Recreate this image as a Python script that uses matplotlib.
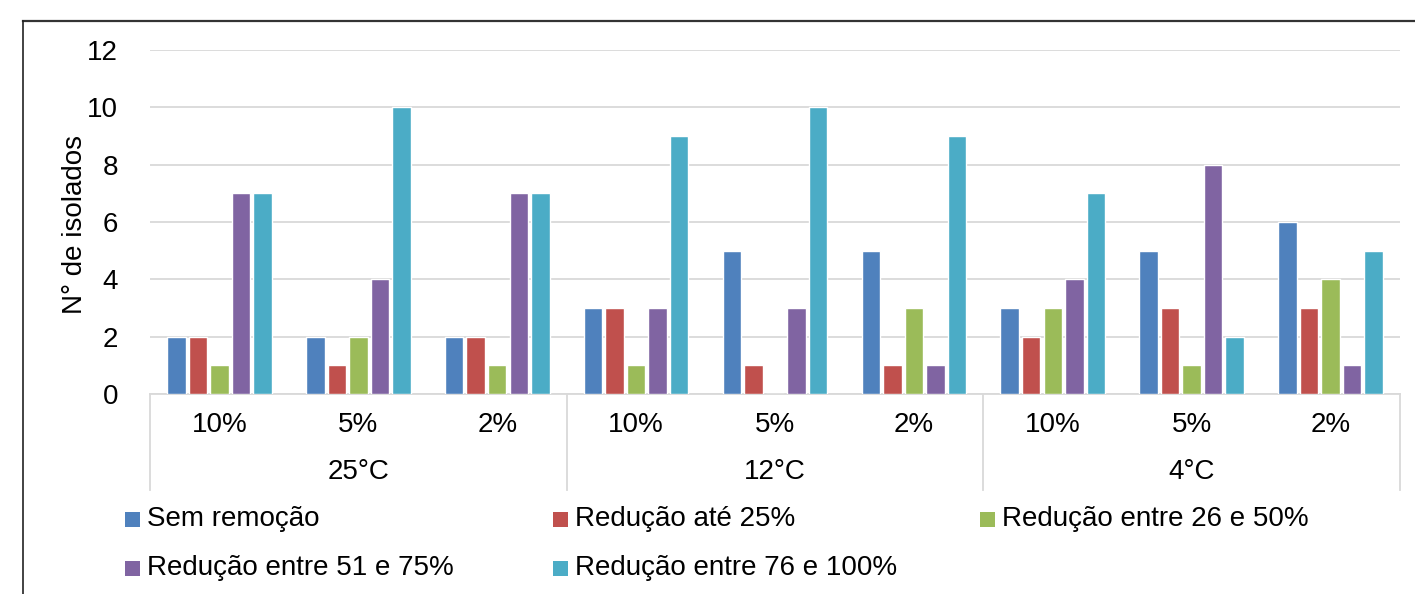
import matplotlib
matplotlib.use("Agg")
import matplotlib.pyplot as plt
from matplotlib.lines import Line2D
from matplotlib.patches import Rectangle
from matplotlib.transforms import blended_transform_factory

plt.rcParams['font.family'] = ['Liberation Sans', 'DejaVu Sans']

temperatures = ["25°C", "12°C", "4°C"]
concentrations = ["10%", "5%", "2%"]
series_names = [
    "Sem remoção",
    "Redução até 25%",
    "Redução entre 26 e 50%",
    "Redução entre 51 e 75%",
    "Redução entre 76 e 100%",
]
colors = ["#4F81BD", "#C0504D", "#9BBB59", "#8064A2", "#4BACC6"]

# values per series, ordered 25°C (10,5,2%), 12°C (10,5,2%), 4°C (10,5,2%)
sem_remocao = [2, 2, 2, 3, 5, 5, 3, 5, 6]
reducao_ate_25 = [2, 1, 2, 3, 1, 1, 2, 3, 3]
reducao_26_50 = [1, 2, 1, 1, 0, 3, 3, 1, 4]
reducao_51_75 = [7, 4, 7, 3, 3, 1, 4, 8, 1]
reducao_76_100 = [7, 10, 7, 9, 10, 9, 7, 2, 5]
series_values = [sem_remocao, reducao_ate_25, reducao_26_50, reducao_51_75, reducao_76_100]

y_ticks = [0, 2, 4, 6, 8, 10, 12]
y_label = "N° de isolados"

W, H = 1415, 594
fig = plt.figure(figsize=(W / 100, H / 100), dpi=100)
ax = fig.add_axes([150 / W, 1 - 394 / H, 1250 / W, 344 / H])

fs = 20
n_groups = len(temperatures) * len(concentrations)
step = 0.155
width = 0.125
for j, (name, vals, col) in enumerate(zip(series_names, series_values, colors)):
    xs = [i + 0.5 + (j - 2) * step for i in range(n_groups)]
    ax.bar(xs, vals, width=width + 0.008, color=col, edgecolor="white",
           linewidth=1.0, zorder=3, label=name)

ax.set_xlim(0, n_groups)
ax.set_ylim(0, 12)
ax.set_yticks(y_ticks)
ax.set_yticklabels([str(t) for t in y_ticks], fontsize=fs)
ax.tick_params(axis="y", length=0, pad=23)
ax.grid(axis="y", color="#D9D9D9", linewidth=1.3, zorder=0)
for s in ["left", "right", "top"]:
    ax.spines[s].set_visible(False)
ax.spines["bottom"].set_color("#D9D9D9")
ax.spines["bottom"].set_linewidth(1.3)
ax.set_xticks([])

trans = blended_transform_factory(ax.transData, ax.transAxes)
# subcategory labels
for i in range(n_groups):
    ax.text(i + 0.5, -31 / 344, concentrations[i % 3], transform=trans,
            ha="center", va="center", fontsize=fs)
# category labels and separators
for k, t in enumerate(temperatures):
    ax.text(3 * k + 1.5, -78 / 344, t, transform=trans,
            ha="center", va="center", fontsize=fs)
for b in range(len(temperatures) + 1):
    ax.add_line(Line2D([3 * b, 3 * b], [0, -96 / 344], transform=trans,
                       color="#D9D9D9", linewidth=1.3, clip_on=False))

fig.text(75 / W, 1 - 225 / H, y_label, rotation=90, ha="center", va="center",
         fontsize=fs)

# legend: three columns, two rows
col_x = [125, 553, 980]
row_y = [519, 568]
sq = 15
for idx, (name, col) in enumerate(zip(series_names, colors)):
    r, c = divmod(idx, 3)
    x0, yc = col_x[c], row_y[r]
    fig.patches.append(Rectangle((x0 / W, 1 - (yc + sq / 2) / H), sq / W, sq / H,
                                 transform=fig.transFigure, facecolor=col,
                                 edgecolor="none"))
    fig.text((x0 + 22) / W, 1 - yc / H, name, ha="left", va="center",
             fontsize=fs)

# outer frame (top and left edges)
fig.add_artist(Line2D([23 / W, 1], [1 - 21 / H, 1 - 21 / H], transform=fig.transFigure,
                      color="#333333", linewidth=1.6))
fig.add_artist(Line2D([23 / W, 23 / W], [0, 1 - 21 / H], transform=fig.transFigure,
                      color="#222222", linewidth=1.2))

fig.savefig("out.png", dpi=100, facecolor="white")
